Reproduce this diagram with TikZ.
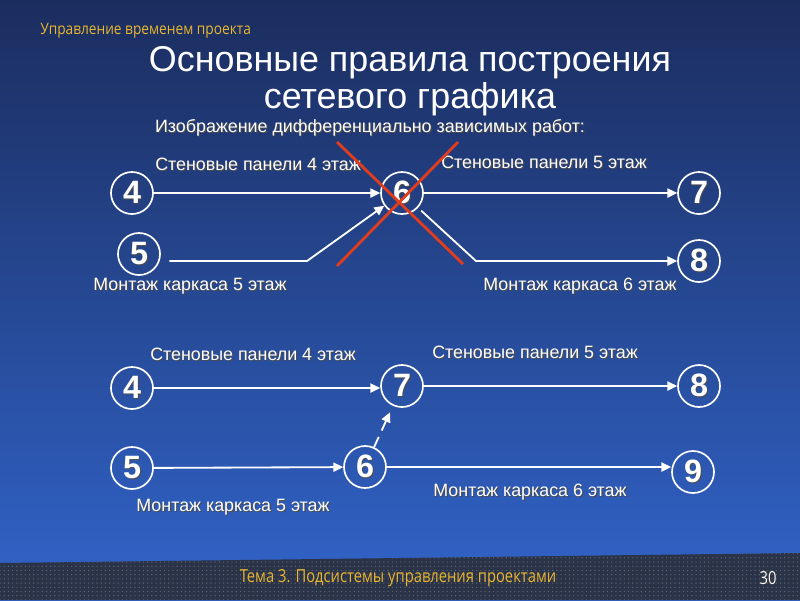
\documentclass[tikz,border=0pt]{standalone}
\usepackage{fontspec}
\setmainfont{Liberation Sans}
\newfontfamily\hdrfont{Open Sans}
\usetikzlibrary{arrows.meta,positioning,patterns}

\definecolor{bgtop}{HTML}{1B2D5E}
\definecolor{bgbot}{HTML}{3164CA}
\definecolor{band}{HTML}{2A3347}
\definecolor{hdr}{HTML}{E8B52E}
\definecolor{crossred}{HTML}{E03C1E}

% white text with a dark drop shadow
\newcommand\shtxt[1]{\leavevmode\rlap{\hspace{0.8pt}\raisebox{-0.8pt}{\color{black!70}#1}}#1}

\begin{document}
\begin{tikzpicture}[x=0.025cm, y=-0.025cm,
  ev/.style={circle, draw=white, line width=1.2pt, minimum size=1.05cm, inner sep=0pt,
    font=\fontsize{23}{23}\selectfont\bfseries, text=white},
  job/.style={font=\fontsize{12.7}{14}\selectfont, text=white, inner sep=1pt},
  arr/.style={draw=white, line width=1.3pt, -{Triangle[length=7pt,width=6.5pt]}},
  cross/.style={draw=crossred, line width=2pt}]
  \useasboundingbox (0,0) rectangle (800,600);
  % background
  \shade[top color=bgtop, bottom color=bgbot] (0,0) rectangle (800,600);
  \fill[band] (0,563) -- (800,553) -- (800,600) -- (0,600) -- cycle;
  \fill[pattern=dots, pattern color=white!25!band] (0,563) -- (800,553) -- (800,600) -- (0,600) -- cycle;

  % header, title, footer
  \node[anchor=west, text=hdr, font=\hdrfont\fontsize{11.2}{13}\selectfont, inner sep=0pt] (hdr) at (40,31) {\scalebox{0.87}[1]{Управление временем проекта}};
  \node[align=center, text=white, font=\fontsize{25.5}{26}\selectfont] (title) at (410,81) {Основные правила построения\\сетевого графика};
  \node[text=hdr, font=\hdrfont\fontsize{12.8}{14}\selectfont] (foot) at (398,578) {\scalebox{0.82}[1]{Тема 3. Подсистемы управления проектами}};
  \node[text=white!90!hdr, font=\hdrfont\fontsize{12.8}{14}\selectfont] (page) at (768,578) {\scalebox{0.82}[1]{30}};

  \node[job] (sub) at (370,128) {\shtxt{Изображение дифференциально зависимых работ:}};

  % upper graph (wrong)
  \node[ev] (a4) at (132,193) {\shtxt{4}};
  \node[ev] (a5) at (139,254) {\shtxt{5}};
  \node[ev] (a6) at (402,193) {\shtxt{6}};
  \node[ev] (a7) at (699,193) {\shtxt{7}};
  \node[ev] (a8) at (699,261) {\shtxt{8}};
  \coordinate (k1) at (307,261);
  \coordinate (k2) at (476,261);
  \draw[arr] (a4) -- (a6);
  \draw[arr, shorten <=6pt] (a5.east |- k1) -- (k1) -- (a6);
  \draw[arr] (a6) -- (a7);
  \draw[arr, shorten <=3pt] (a6) -- (k2) -- (a8);
  \node[job] (l1) at (258,165) {\shtxt{Стеновые панели 4 этаж}};
  \node[job] (l2) at (190,287) {\shtxt{Монтаж каркаса 5 этаж}};
  \node[job] (l3) at (544,163) {\shtxt{Стеновые панели 5 этаж}};
  \node[job] (l4) at (580,287) {\shtxt{Монтаж каркаса 6 этаж}};
  \draw[cross] (337,142) -- (463,264);
  \draw[cross] (337,266) -- (458,142);

  % lower graph (right)
  \node[ev] (b4) at (132,388) {\shtxt{4}};
  \node[ev] (b5) at (132,468) {\shtxt{5}};
  \node[ev] (b6) at (365,467) {\shtxt{6}};
  \node[ev] (b7) at (402,386) {\shtxt{7}};
  \node[ev] (b8) at (699,386) {\shtxt{8}};
  \node[ev] (b9) at (693,472) {\shtxt{9}};
  \draw[arr] (b4) -- (b4 -| b7.west);
  \draw[arr] (b5) -- (b6);
  \draw[arr, dash pattern=on 8pt off 5pt, shorten >=5pt] (b6) -- (b7);
  \draw[arr] (b7) -- (b8);
  \draw[arr] (b6) -- (b6 -| b9.west);
  \node[job] (m1) at (253,355) {\shtxt{Стеновые панели 4 этаж}};
  \node[job] (m2) at (233,508) {\shtxt{Монтаж каркаса 5 этаж}};
  \node[job] (m3) at (535,353) {\shtxt{Стеновые панели 5 этаж}};
  \node[job] (m4) at (530,493) {\shtxt{Монтаж каркаса 6 этаж}};
\end{tikzpicture}
\end{document}
